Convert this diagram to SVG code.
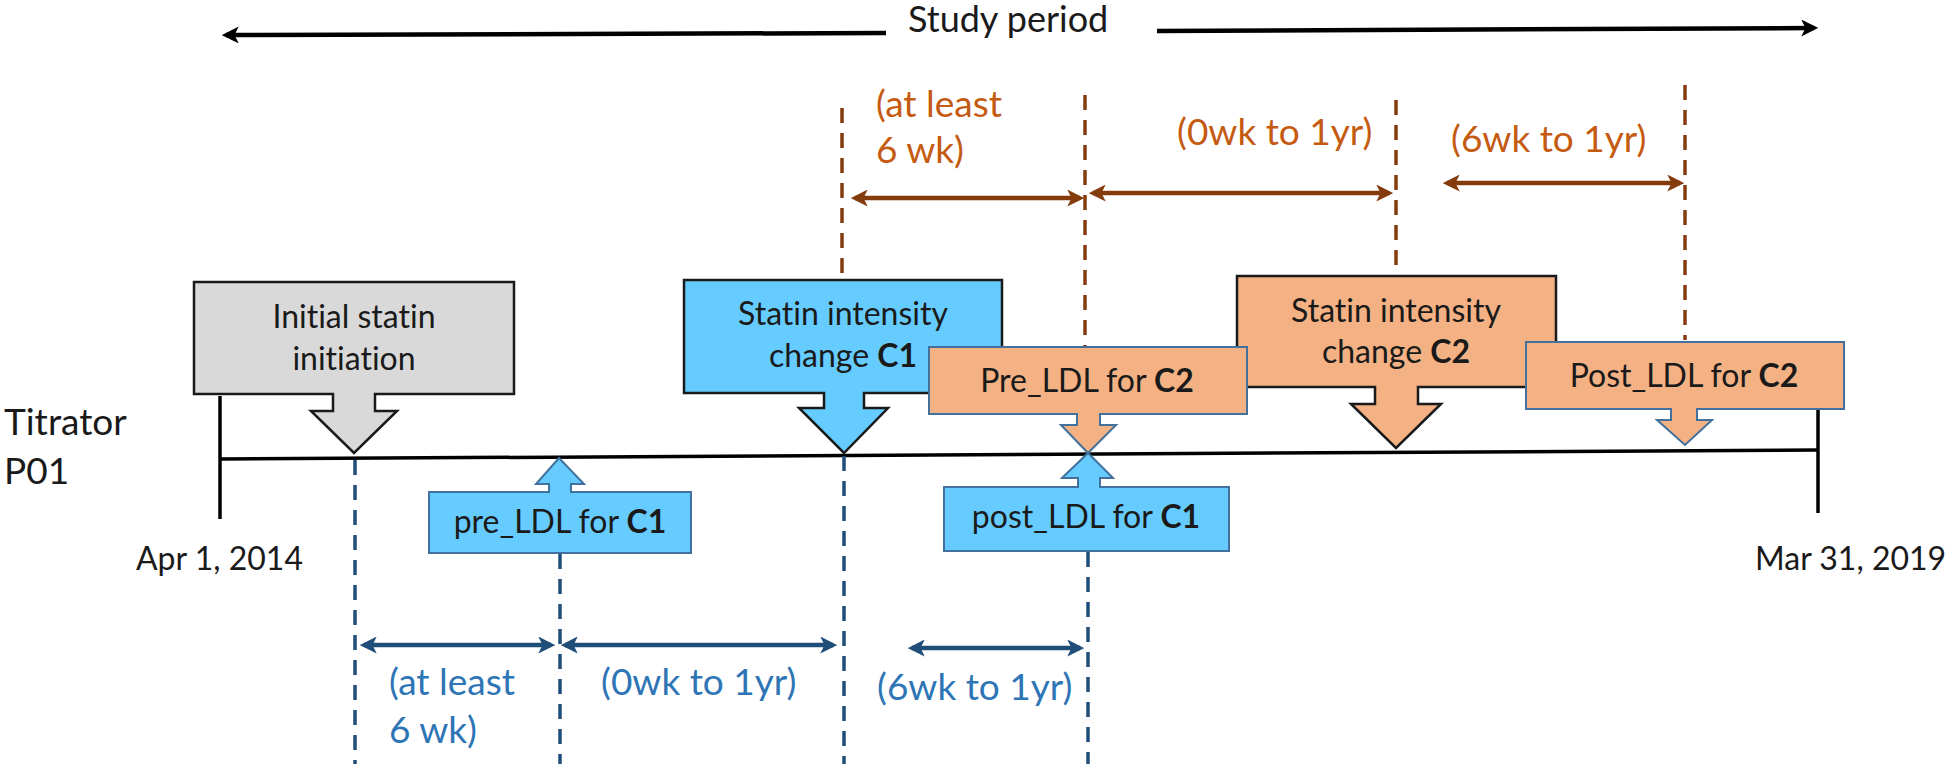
<svg xmlns="http://www.w3.org/2000/svg" width="1946" height="769" viewBox="0 0 1946 769">
  <style>
    text { font-family: Lato, "Liberation Sans", "Noto Sans", sans-serif; font-size: 32px; fill: #1a1a1a; font-variant-ligatures: none; }
    .mid { text-anchor: middle; }
    .b { font-weight: bold; }
    .big { font-size: 37px; }
    .orange { fill: #C55A11; font-size: 37px; }
    .blue { fill: #2E75B6; font-size: 37px; }
    .gray { fill: #D9D9D9; stroke: #1a1a1a; stroke-width: 2.5; }
    .cblue { fill: #66CCFF; stroke: #1a1a1a; stroke-width: 2.5; }
    .corange { fill: #F4B183; stroke: #1a1a1a; stroke-width: 2.5; }
    .lblue { fill: #66CCFF; stroke: #41719C; stroke-width: 2; }
    .lorange { fill: #F4B183; stroke: #41719C; stroke-width: 2; }
    .axis { stroke: #000; stroke-width: 3.5; fill: none; }
    .bdash { stroke: #843C0C; stroke-width: 3.5; stroke-dasharray: 15 10; fill: none; }
    .ddash { stroke: #1F4E79; stroke-width: 3.5; stroke-dasharray: 15 10; fill: none; }
    .barrow { stroke: #843C0C; stroke-width: 4.5; fill: none; marker-start: url(#mb); marker-end: url(#mb); }
    .darrow { stroke: #1F4E79; stroke-width: 4.5; fill: none; marker-start: url(#md); marker-end: url(#md); }
    .karrow { stroke: #000; stroke-width: 4.5; fill: none; marker-end: url(#mk); }
  </style>
  <defs>
    <marker id="mb" viewBox="0 0 16 16" refX="12" refY="8" markerWidth="17" markerHeight="17" markerUnits="userSpaceOnUse" orient="auto-start-reverse">
      <path d="M0,0 L16,8 L0,16 L4,8 Z" fill="#843C0C"/>
    </marker>
    <marker id="md" viewBox="0 0 16 16" refX="12" refY="8" markerWidth="17" markerHeight="17" markerUnits="userSpaceOnUse" orient="auto-start-reverse">
      <path d="M0,0 L16,8 L0,16 L4,8 Z" fill="#1F4E79"/>
    </marker>
    <marker id="mk" viewBox="0 0 16 16" refX="12" refY="8" markerWidth="17" markerHeight="17" markerUnits="userSpaceOnUse" orient="auto-start-reverse">
      <path d="M0,0 L16,8 L0,16 L4,8 Z" fill="#000"/>
    </marker>
  </defs>

  <g id="connectors">
    <!-- study period arrows -->
    <line class="karrow" x1="886" y1="33" x2="226" y2="35"/>
    <line class="karrow" x1="1157" y1="31" x2="1814" y2="28"/>
    <!-- brown dashed verticals -->
    <line class="bdash" x1="842" y1="108" x2="842" y2="278"/>
    <line class="bdash" x1="1085" y1="95" x2="1085" y2="346"/>
    <line class="bdash" x1="1396" y1="100" x2="1396" y2="270"/>
    <line class="bdash" x1="1685" y1="85" x2="1685" y2="340"/>
    <!-- brown interval arrows -->
    <line class="barrow" x1="855" y1="198" x2="1080" y2="198"/>
    <line class="barrow" x1="1093" y1="193" x2="1389" y2="193"/>
    <line class="barrow" x1="1447" y1="183" x2="1680" y2="183"/>
    <!-- timeline -->
    <line class="axis" x1="220" y1="459" x2="1818" y2="450"/>
    <line class="axis" x1="220" y1="396" x2="220" y2="519"/>
    <line class="axis" x1="1818" y1="409" x2="1818" y2="513"/>
    <!-- blue dashed verticals -->
    <line class="ddash" x1="355" y1="460" x2="355" y2="764"/>
    <line class="ddash" x1="560" y1="554" x2="560" y2="764"/>
    <line class="ddash" x1="844" y1="456" x2="844" y2="764"/>
    <line class="ddash" x1="1088" y1="552" x2="1088" y2="764"/>
    <!-- blue interval arrows -->
    <line class="darrow" x1="364" y1="645" x2="551" y2="645"/>
    <line class="darrow" x1="565" y1="645" x2="833" y2="645"/>
    <line class="darrow" x1="912" y1="648" x2="1080" y2="648"/>
  </g>

  <g id="labels">
    <text class="big" x="908" y="32" style="font-size:36px">Study period</text>
    <text class="big" x="4" y="435">Titrator</text>
    <text class="big" x="4" y="484">P01</text>
    <text x="136" y="570">Apr 1, 2014</text>
    <text x="1755" y="570">Mar 31, 2019</text>
    <text class="orange" x="876" y="117">(at least</text>
    <text class="orange" x="876" y="163">6 wk)</text>
    <text class="orange" x="1177" y="145">(0wk to 1yr)</text>
    <text class="orange" x="1451" y="152">(6wk to 1yr)</text>
    <text class="blue" x="389" y="695">(at least</text>
    <text class="blue" x="389" y="743">6 wk)</text>
    <text class="blue" x="601" y="695">(0wk to 1yr)</text>
    <text class="blue" x="877" y="700">(6wk to 1yr)</text>
  </g>

  <g id="initial">
    <path class="gray" d="M194,282 H514 V394 H375 V411 H397 L354,453 L311,411 H333 V394 H194 Z"/>
    <text class="mid" x="354" y="328">Initial statin</text>
    <text class="mid" x="354" y="370">initiation</text>
  </g>

  <g id="change-c1">
    <path class="cblue" d="M684,280 H1002 V393 H864 V408 H888 L844,453 L799,408 H824 V393 H684 Z"/>
    <text class="mid" x="843" y="325">Statin intensity</text>
    <text class="mid" x="843" y="367">change <tspan class="b">C1</tspan></text>
  </g>

  <g id="pre-ldl-c1">
    <path class="lblue" d="M429,492 H549 V484 H536 L559,458 L584,484 H571 V492 H691 V553 H429 Z"/>
    <text class="mid" x="560" y="533">pre_LDL for <tspan class="b">C1</tspan></text>
  </g>

  <g id="post-ldl-c1">
    <path class="lblue" d="M944,487 H1078 V478 H1062 L1088,453 L1113,478 H1100 V487 H1229 V551 H944 Z"/>
    <text class="mid" x="1086" y="528">post_LDL for <tspan class="b">C1</tspan></text>
  </g>

  <g id="change-c2">
    <path class="corange" d="M1237,276 H1556 V387 H1418 V404 H1441 L1396,448 L1351,404 H1375 V387 H1237 Z"/>
    <text class="mid" x="1396" y="322">Statin intensity</text>
    <text class="mid" x="1396" y="363">change <tspan class="b">C2</tspan></text>
  </g>

  <g id="pre-ldl-c2">
    <path class="lorange" d="M929,347 H1247 V414 H1100 V425 H1116 L1088,453 L1061,425 H1077 V414 H929 Z"/>
    <text class="mid" x="1087" y="392">Pre_LDL for <tspan class="b">C2</tspan></text>
  </g>

  <g id="post-ldl-c2">
    <path class="lorange" d="M1526,342 H1844 V409 H1697 V420 H1712 L1685,445 L1657,420 H1671 V409 H1526 Z"/>
    <text class="mid" x="1684" y="387">Post_LDL for <tspan class="b">C2</tspan></text>
  </g>
</svg>
